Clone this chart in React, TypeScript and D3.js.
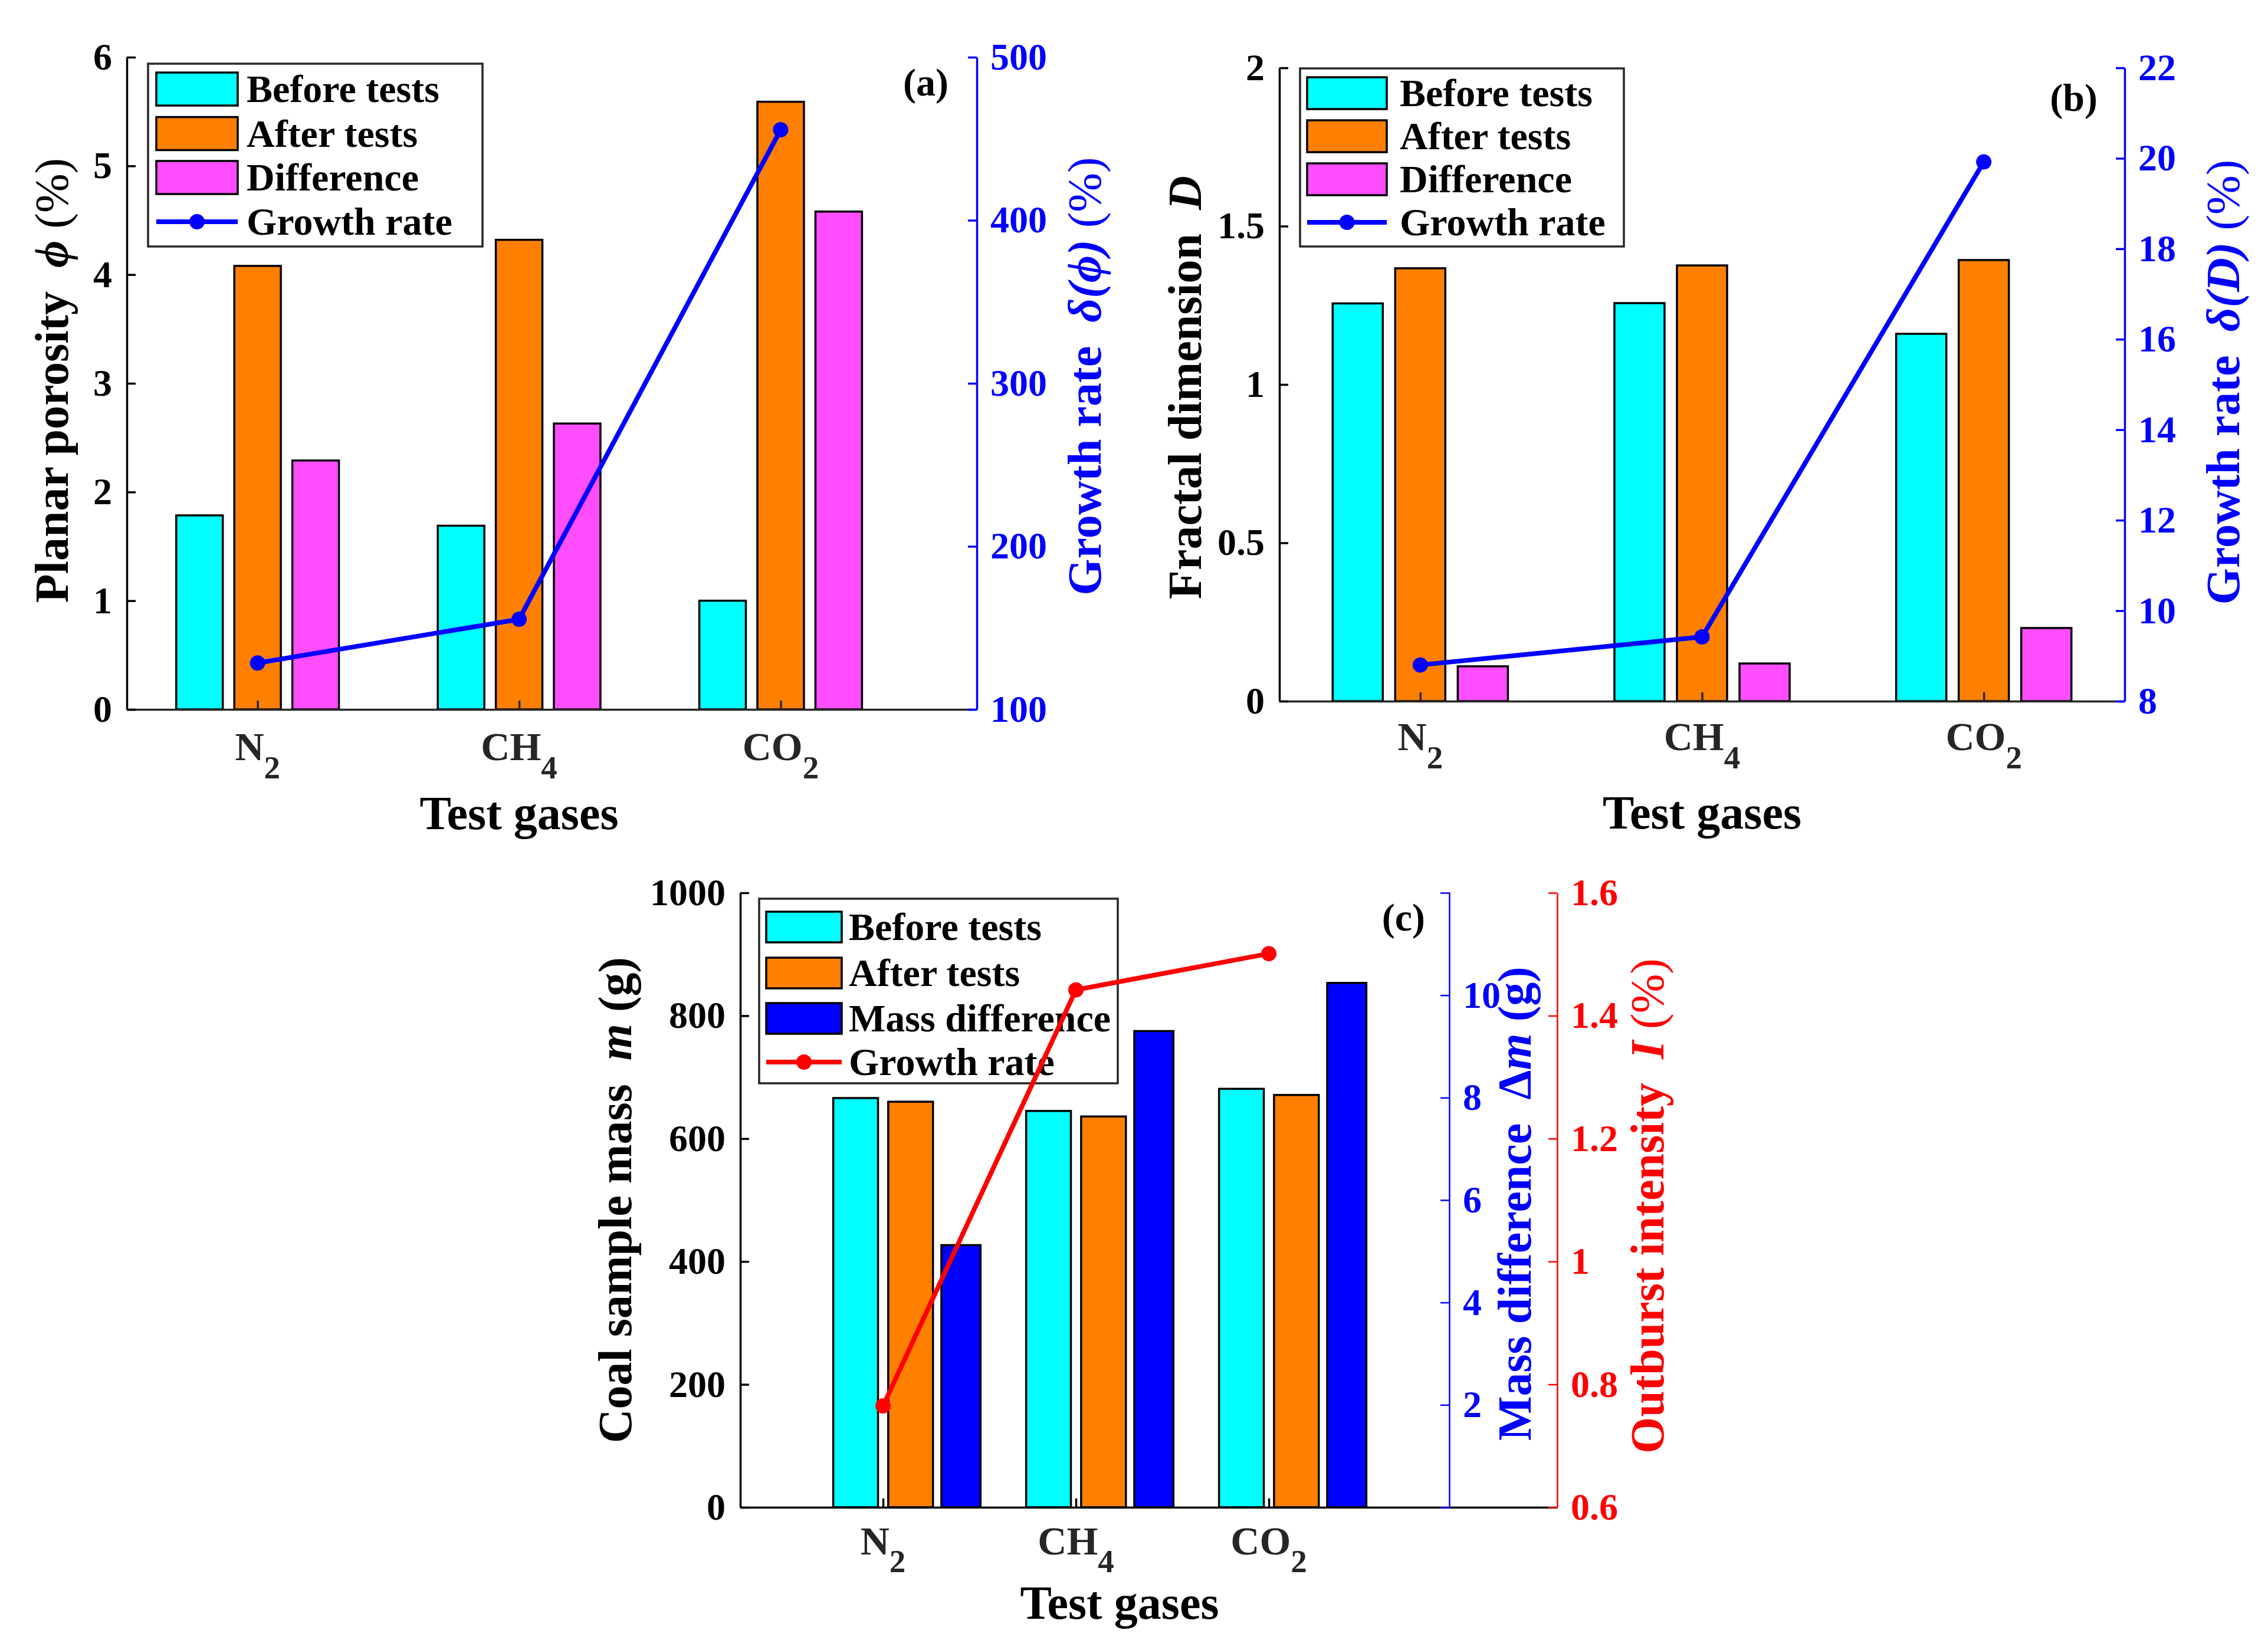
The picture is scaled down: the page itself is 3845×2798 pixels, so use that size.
import React, { useRef, useEffect } from "react";
import * as d3 from "d3";

const W = 3845;
const H = 2798;
const FONT = "'Liberation Serif', 'Times New Roman', Times, serif";
const CYAN = "#00ffff";
const ORANGE = "#ff8000";
const MAGENTA = "#ff4dff";
const BLUE = "#0000ff";
const RED = "#ff0000";
const DARK = "#262626";

const gases = ["N", "CH", "CO"];
const gasSubs = ["2", "4", "2"];
const legendAB = ["Before tests", "After tests", "Difference", "Growth rate"];
const legendC = ["Before tests", "After tests", "Mass difference", "Growth rate"];

// (a) planar porosity
const porosityBefore = [1.785, 1.69, 1.0];
const porosityAfter = [4.08, 4.32, 5.59];
const porosityDiff = [2.29, 2.63, 4.58];
const porosityGrowth = [128.5, 155.3, 455.5];
const porosityTicks = [0, 1, 2, 3, 4, 5, 6];
const porosityGrowthTicks = [100, 200, 300, 400, 500];

// (b) fractal dimension
const fractalBefore = [1.256, 1.257, 1.16];
const fractalAfter = [1.367, 1.376, 1.393];
const fractalDiff = [0.11, 0.119, 0.231];
const fractalGrowth = [8.8, 9.42, 19.92];
const fractalTicks = [0, 0.5, 1, 1.5, 2];
const fractalGrowthTicks = [8, 10, 12, 14, 16, 18, 20, 22];

// (c) coal sample mass
const massBefore = [666, 645, 681];
const massAfter = [660, 636, 671];
const massDiff = [5.12, 9.3, 10.24];
const outburst = [0.765, 1.442, 1.501];
const massTicks = [0, 200, 400, 600, 800, 1000];
const massDiffTicks = [2, 4, 6, 8, 10];
const outburstTicks = [0.6, 0.8, 1, 1.2, 1.4, 1.6];

type Part = { t: string; it?: boolean; reg?: boolean };
type Sel = d3.Selection<any, any, any, any>;

function styleAxis(a: Sel, color: string, lw: number) {
  a.attr("font-family", FONT)
    .attr("font-size", 64)
    .attr("font-weight", "bold")
    .attr("color", color);
  a.select(".domain").attr("stroke-width", lw);
  a.selectAll(".tick line").attr("stroke-width", lw);
}

function rotLabel(g: Sel, x: number, y: number, parts: Part[], fill: string) {
  const t = g
    .append("text")
    .attr("transform", `translate(${x},${y}) rotate(-90)`)
    .attr("text-anchor", "middle")
    .attr("font-family", FONT)
    .attr("font-size", 80)
    .attr("font-weight", "bold")
    .attr("fill", fill);
  parts.forEach((p) =>
    t
      .append("tspan")
      .attr("font-style", p.it ? "italic" : null)
      .attr("font-weight", p.reg ? "normal" : null)
      .text(p.t)
  );
}

function catLabels(g: Sel, x: d3.ScaleLinear<number, number>, y: number, subDy: number, titleX: number, titleY: number) {
  gases.forEach((n, i) => {
    const t = g
      .append("text")
      .attr("x", x(i + 1))
      .attr("y", y)
      .attr("text-anchor", "middle")
      .attr("font-family", FONT)
      .attr("font-size", 68)
      .attr("font-weight", "bold")
      .attr("fill", DARK);
    t.append("tspan").text(n);
    t.append("tspan").attr("dy", subDy).attr("font-size", 55).text(gasSubs[i]);
  });
  g.append("text")
    .attr("x", titleX)
    .attr("y", titleY)
    .attr("text-anchor", "middle")
    .attr("font-family", FONT)
    .attr("font-size", 80)
    .attr("font-weight", "bold")
    .text("Test gases");
}

type Leg = { x0: number; x1: number; y0: number; y1: number; px0: number; px1: number; ph: number; rows: number[]; tx: number };

function legend(g: Sel, L: Leg, names: string[], colors: string[], lineColor: string) {
  g.append("rect")
    .attr("x", L.x0)
    .attr("y", L.y0)
    .attr("width", L.x1 - L.x0)
    .attr("height", L.y1 - L.y0)
    .attr("fill", "#fff")
    .attr("stroke", DARK)
    .attr("stroke-width", 3.5);
  names.forEach((n, i) => {
    const cy = L.rows[i];
    if (i < 3) {
      g.append("rect")
        .attr("x", L.px0)
        .attr("y", cy - L.ph / 2)
        .attr("width", L.px1 - L.px0)
        .attr("height", L.ph)
        .attr("fill", colors[i])
        .attr("stroke", "#000")
        .attr("stroke-width", 3.5);
    } else {
      g.append("line")
        .attr("x1", L.px0)
        .attr("x2", L.px1)
        .attr("y1", cy)
        .attr("y2", cy)
        .attr("stroke", lineColor)
        .attr("stroke-width", 8);
      g.append("circle")
        .attr("cx", (L.px0 + L.px1) / 2)
        .attr("cy", cy)
        .attr("r", 13)
        .attr("fill", lineColor);
    }
    g.append("text")
      .attr("x", L.tx)
      .attr("y", cy + 22)
      .attr("font-family", FONT)
      .attr("font-size", 66)
      .attr("font-weight", "bold")
      .text(n);
  });
}

function growthLine(g: Sel, x: d3.ScaleLinear<number, number>, y: d3.ScaleLinear<number, number>, vals: number[], color: string) {
  const line = d3
    .line<number>()
    .x((d, i) => x(i + 1))
    .y((d) => y(d));
  g.append("path").attr("d", line(vals)).attr("fill", "none").attr("stroke", color).attr("stroke-width", 8);
  g.selectAll(null)
    .data(vals)
    .enter()
    .append("circle")
    .attr("cx", (d, i) => x(i + 1))
    .attr("cy", (d) => y(d))
    .attr("r", 13)
    .attr("fill", color);
}

type BarPanel = {
  left: number; right: number; top: number; bottom: number;
  xDomain: [number, number];
  yDomain: [number, number]; yTicks: number[];
  y2Domain: [number, number]; y2Ticks: number[];
  series: number[][]; growth: number[];
  leftLabel: Part[]; leftLabelX: number; leftLabelY: number;
  rightLabel: Part[]; rightLabelX: number; rightLabelY: number;
  legend: Leg; tag: string; tagX: number; tagY: number;
  catY: number; titleY: number;
};

function drawBarPanel(svg: Sel, p: BarPanel) {
  const x = d3.scaleLinear().domain(p.xDomain).range([p.left, p.right]);
  const y = d3.scaleLinear().domain(p.yDomain).range([p.bottom, p.top]);
  const y2 = d3.scaleLinear().domain(p.y2Domain).range([p.bottom, p.top]);
  const g = svg.append("g");
  const colors = [CYAN, ORANGE, MAGENTA];
  const offsets = [-0.222, 0, 0.222];
  const bw = 0.178;

  p.series.forEach((vals, si) => {
    g.selectAll(null)
      .data(vals)
      .enter()
      .append("rect")
      .attr("x", (d, i) => x(i + 1 + offsets[si] - bw / 2))
      .attr("width", x(bw) - x(0))
      .attr("y", (d) => y(d))
      .attr("height", (d) => y(0) - y(d))
      .attr("fill", colors[si])
      .attr("stroke", "#000")
      .attr("stroke-width", 3.5);
  });

  const ax = g
    .append("g")
    .attr("transform", `translate(0,${p.bottom})`)
    .call(d3.axisBottom(x).tickValues([1, 2, 3]).tickSize(-15).tickSizeOuter(0).tickFormat(() => ""));
  styleAxis(ax, DARK, 3.5);

  const ay = g
    .append("g")
    .attr("transform", `translate(${p.left},0)`)
    .call(d3.axisLeft(y).tickValues(p.yTicks).tickSize(-15).tickSizeOuter(0).tickPadding(25).tickFormat((d) => String(d)));
  styleAxis(ay, "#000", 3.5);

  const ay2 = g
    .append("g")
    .attr("transform", `translate(${p.right},0)`)
    .call(d3.axisRight(y2).tickValues(p.y2Ticks).tickSize(-15).tickSizeOuter(0).tickPadding(23).tickFormat((d) => String(d)));
  styleAxis(ay2, BLUE, 3.5);

  growthLine(g, x, y2, p.growth, BLUE);
  legend(g, p.legend, legendAB, colors, BLUE);

  g.append("text")
    .attr("x", p.tagX)
    .attr("y", p.tagY)
    .attr("text-anchor", "end")
    .attr("font-family", FONT)
    .attr("font-size", 66)
    .attr("font-weight", "bold")
    .text(p.tag);

  rotLabel(g, p.leftLabelX, p.leftLabelY, p.leftLabel, "#000");
  rotLabel(g, p.rightLabelX, p.rightLabelY, p.rightLabel, BLUE);
  catLabels(g, x, p.catY, 31, x(2), p.titleY);
}

function drawMassPanel(svg: Sel) {
  const left = 1255, right = 2640, diffAxis = 2457, top = 1514, bottom = 2556;
  const x = d3.scaleLinear().domain([0.26, 4.495]).range([left, right]);
  const y = d3.scaleLinear().domain([0, 1000]).range([bottom, top]);
  const yd = d3.scaleLinear().domain([0, 12]).range([bottom, top]);
  const yo = d3.scaleLinear().domain([0.6, 1.6]).range([bottom, top]);
  const g = svg.append("g");

  const pairs = [massBefore, massAfter];
  const pairColors = [CYAN, ORANGE];
  const pairOffsets = [-0.142, 0.143];
  const bw = 0.232;
  pairs.forEach((vals, si) => {
    g.selectAll(null)
      .data(vals)
      .enter()
      .append("rect")
      .attr("x", (d, i) => x(i + 1 + pairOffsets[si] - bw / 2))
      .attr("width", x(bw) - x(0))
      .attr("y", (d) => y(d))
      .attr("height", (d) => y(0) - y(d))
      .attr("fill", pairColors[si])
      .attr("stroke", "#000")
      .attr("stroke-width", 3.5);
  });
  const dw = 0.203;
  g.selectAll(null)
    .data(massDiff)
    .enter()
    .append("rect")
    .attr("x", (d, i) => x(i + 1 + 0.404 - dw / 2))
    .attr("width", x(dw) - x(0))
    .attr("y", (d) => yd(d))
    .attr("height", (d) => yd(0) - yd(d))
    .attr("fill", BLUE)
    .attr("stroke", "#000")
    .attr("stroke-width", 3.5);

  const ax = g
    .append("g")
    .attr("transform", `translate(0,${bottom})`)
    .call(d3.axisBottom(x).tickValues([1, 2, 3]).tickSize(-15).tickSizeOuter(0).tickFormat(() => ""));
  styleAxis(ax, "#000", 3.5);

  const ay = g
    .append("g")
    .attr("transform", `translate(${left},0)`)
    .call(d3.axisLeft(y).tickValues(massTicks).tickSize(-15).tickSizeOuter(0).tickPadding(25).tickFormat((d) => String(d)));
  styleAxis(ay, "#000", 3.5);

  const ad = g
    .append("g")
    .attr("transform", `translate(${diffAxis},0)`)
    .call(d3.axisRight(yd).tickValues(massDiffTicks).tickSize(-15).tickSizeOuter(-15).tickPadding(23).tickFormat((d) => String(d)));
  styleAxis(ad, BLUE, 2.5);

  const ao = g
    .append("g")
    .attr("transform", `translate(${right},0)`)
    .call(d3.axisRight(yo).tickValues(outburstTicks).tickSize(-15).tickSizeOuter(0).tickPadding(23).tickFormat((d) => String(d)));
  styleAxis(ao, RED, 2.5);

  legend(
    g,
    { x0: 1287, x1: 1895, y0: 1524, y1: 1837, px0: 1299, px1: 1427, ph: 52, rows: [1572, 1650, 1727, 1801], tx: 1439 },
    legendC,
    [CYAN, ORANGE, BLUE],
    RED
  );
  growthLine(g, x, yo, outburst, RED);

  g.append("text")
    .attr("x", 2416)
    .attr("y", 1578)
    .attr("text-anchor", "end")
    .attr("font-family", FONT)
    .attr("font-size", 66)
    .attr("font-weight", "bold")
    .text("(c)");

  rotLabel(g, 1070, 2035, [{ t: "Coal sample mass\u00a0\u00a0" }, { t: "m", it: true }, { t: " (g)" }], "#000");
  rotLabel(g, 2595, 2041, [{ t: "Mass difference\u00a0\u00a0" }, { t: "\u0394" }, { t: "m", it: true }, { t: " (g)" }], BLUE);
  rotLabel(g, 2820, 2045, [{ t: "Outburst intensity\u00a0\u00a0" }, { t: "I", it: true }, { t: " (%)", reg: true }], RED);
  catLabels(g, x, 2636, 30, 1898, 2745);
}

export default function App() {
  const ref = useRef<SVGSVGElement | null>(null);

  useEffect(() => {
    document.body.style.margin = "0";
    const svg = d3.select(ref.current);
    svg.selectAll("*").remove();
    svg.append("rect").attr("width", W).attr("height", H).attr("fill", "#fff");

    drawBarPanel(svg, {
      left: 215, right: 1656, top: 97, bottom: 1203,
      xDomain: [0.5, 3.75],
      yDomain: [0, 6], yTicks: porosityTicks,
      y2Domain: [100, 500], y2Ticks: porosityGrowthTicks,
      series: [porosityBefore, porosityAfter, porosityDiff],
      growth: porosityGrowth,
      leftLabel: [{ t: "Planar porosity\u00a0\u00a0" }, { t: "\u03d5", it: true }, { t: " (%)", reg: true }],
      leftLabelX: 115, leftLabelY: 645,
      rightLabel: [{ t: "Growth rate\u00a0\u00a0" }, { t: "\u03b4(\u03d5)", it: true }, { t: " (%)", reg: true }],
      rightLabelX: 1866, rightLabelY: 638,
      legend: { x0: 251, x1: 818, y0: 108, y1: 418, px0: 265, px1: 403, ph: 56, rows: [151, 226.5, 301, 376], tx: 418 },
      tag: "(a)", tagX: 1608, tagY: 162,
      catY: 1289, titleY: 1406,
    });

    drawBarPanel(svg, {
      left: 2169, right: 3602, top: 115, bottom: 1189,
      xDomain: [0.5, 3.5],
      yDomain: [0, 2], yTicks: fractalTicks,
      y2Domain: [8, 22], y2Ticks: fractalGrowthTicks,
      series: [fractalBefore, fractalAfter, fractalDiff],
      growth: fractalGrowth,
      leftLabel: [{ t: "Fractal dimension\u00a0\u00a0" }, { t: "D", it: true }],
      leftLabelX: 2036, leftLabelY: 657,
      rightLabel: [{ t: "Growth rate\u00a0\u00a0" }, { t: "\u03b4(D)", it: true }, { t: " (%)", reg: true }],
      rightLabelX: 3796, rightLabelY: 648,
      legend: { x0: 2204, x1: 2753, y0: 116, y1: 418, px0: 2216, px1: 2351, ph: 54, rows: [158, 231, 304, 377], tx: 2373 },
      tag: "(b)", tagX: 3556, tagY: 188,
      catY: 1272, titleY: 1405,
    });

    drawMassPanel(svg);
  }, []);

  return (
    <div style={{ position: "absolute", left: 0, top: 0 }}>
      <svg ref={ref} width={W} height={H} style={{ display: "block" }} />
    </div>
  );
}
